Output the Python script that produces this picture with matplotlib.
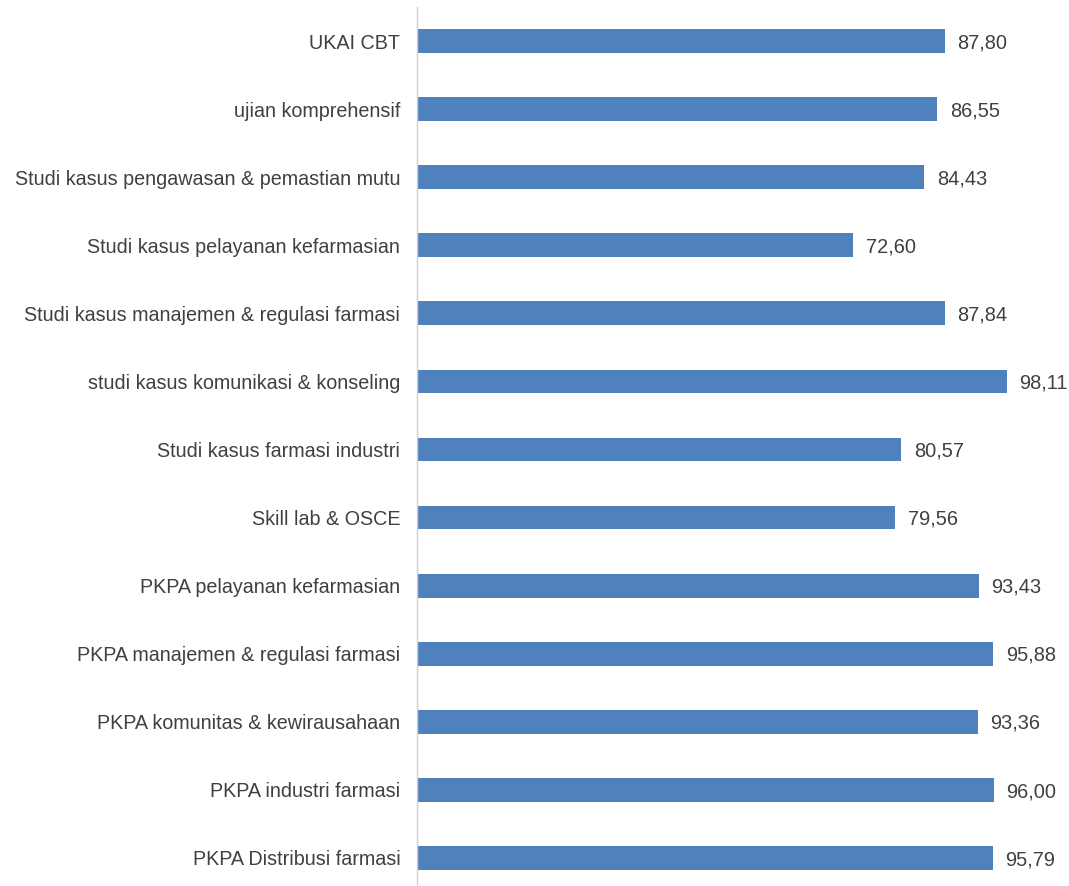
import matplotlib
matplotlib.use("Agg")
import matplotlib.pyplot as plt

categories = [
    "UKAI CBT",
    "ujian komprehensif",
    "Studi kasus pengawasan & pemastian mutu",
    "Studi kasus pelayanan kefarmasian",
    "Studi kasus manajemen & regulasi farmasi",
    "studi kasus komunikasi & konseling",
    "Studi kasus farmasi industri",
    "Skill lab & OSCE",
    "PKPA pelayanan kefarmasian",
    "PKPA manajemen & regulasi farmasi",
    "PKPA komunitas & kewirausahaan",
    "PKPA industri farmasi",
    "PKPA Distribusi farmasi",
]
values = [87.80, 86.55, 84.43, 72.60, 87.84, 98.11, 80.57, 79.56, 93.43, 95.88, 93.36, 96.00, 95.79]

plt.rcParams['font.family'] = ['Liberation Sans', 'DejaVu Sans']

W, H = 1069, 886
fig = plt.figure(figsize=(W / 100, H / 100), dpi=100)
x0, x1 = 417, 1018   # pixel positions of value 0 and 100
ytop, ybot = 7, 892
ax = fig.add_axes([x0 / W, 1 - ybot / H, (x1 - x0) / W, (ybot - ytop) / H])

n = len(categories)
ypos = list(range(n))[::-1]
ax.barh(ypos, values, height=0.35, color="#4F81BD", zorder=2)
ax.set_xlim(0, 100)
ax.set_ylim(-0.5, n - 0.5)
ax.set_yticks(ypos)
ax.set_yticklabels(categories, fontsize=14.2, color="#404040")
ax.tick_params(axis='y', length=0, pad=12)
ax.set_xticks([])
for s in ["top", "right", "bottom"]:
    ax.spines[s].set_visible(False)
ax.spines["left"].set_color("#D0D0D0")
ax.spines["left"].set_linewidth(1)

for y, v in zip(ypos, values):
    ax.annotate(f"{v:.2f}".replace(".", ","), xy=(v, y), xytext=(9, -1.2),
                textcoords="offset points", va="center", ha="left",
                fontsize=14.4, color="#404040", annotation_clip=False)

fig.savefig("out.png", dpi=100)
